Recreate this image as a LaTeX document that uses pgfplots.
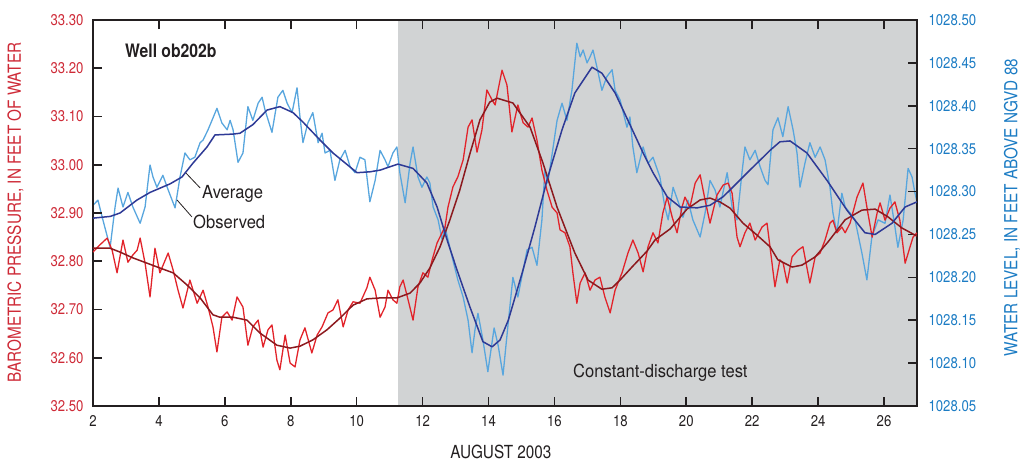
\documentclass[border=0pt]{standalone}
\usepackage{fontspec}
\setmainfont{TeX Gyre Heros}[FakeStretch=0.85]
\newfontfamily\annofont{TeX Gyre Heros}[FakeStretch=0.92]
\usepackage{pgfplots}
\pgfplotsset{compat=1.18}
\definecolor{obsred}{RGB}{226,35,42}
\definecolor{avgred}{RGB}{140,25,30}
\definecolor{obsblue}{RGB}{88,166,222}
\definecolor{avgblue}{RGB}{46,58,150}
\definecolor{shadegray}{RGB}{209,211,212}
\definecolor{labred}{RGB}{206,42,55}
\definecolor{labblue}{RGB}{28,124,196}
\definecolor{framecol}{RGB}{35,31,32}

\pgfplotstableread{
day water
2.00 1028.284
2.15 1028.290
2.30 1028.267
2.52 1028.235
2.67 1028.282
2.76 1028.304
2.91 1028.282
3.06 1028.299
3.21 1028.282
3.43 1028.263
3.58 1028.282
3.73 1028.331
3.82 1028.317
3.94 1028.305
4.12 1028.319
4.28 1028.302
4.49 1028.281
4.64 1028.317
4.79 1028.345
4.94 1028.337
5.09 1028.340
5.25 1028.357
5.34 1028.360
5.49 1028.372
5.61 1028.383
5.76 1028.397
5.91 1028.380
6.07 1028.372
6.16 1028.383
6.25 1028.372
6.40 1028.334
6.55 1028.345
6.70 1028.399
6.85 1028.383
7.01 1028.403
7.13 1028.410
7.22 1028.395
7.43 1028.369
7.61 1028.410
7.76 1028.418
7.89 1028.403
8.04 1028.392
8.19 1028.421
8.28 1028.387
8.37 1028.357
8.52 1028.380
8.67 1028.392
8.83 1028.357
8.95 1028.368
9.04 1028.345
9.19 1028.348
9.34 1028.313
9.49 1028.337
9.65 1028.348
9.80 1028.329
9.95 1028.322
10.10 1028.340
10.25 1028.337
10.40 1028.288
10.56 1028.313
10.71 1028.348
10.86 1028.337
10.95 1028.329
11.10 1028.345
11.22 1028.352
11.31 1028.322
11.47 1028.287
11.62 1028.333
11.71 1028.352
11.86 1028.317
11.98 1028.305
12.13 1028.317
12.22 1028.310
12.32 1028.282
12.47 1028.267
12.59 1028.244
12.68 1028.259
12.77 1028.244
12.92 1028.220
13.07 1028.197
13.23 1028.177
13.38 1028.150
13.50 1028.112
13.59 1028.139
13.68 1028.158
13.83 1028.127
13.98 1028.090
14.17 1028.141
14.29 1028.121
14.44 1028.086
14.59 1028.144
14.74 1028.200
14.89 1028.177
15.17 1028.232
15.32 1028.235
15.47 1028.214
15.62 1028.267
15.71 1028.325
15.80 1028.310
16.08 1028.383
16.23 1028.403
16.38 1028.383
16.53 1028.418
16.68 1028.473
16.78 1028.457
16.87 1028.465
16.99 1028.450
17.08 1028.457
17.17 1028.465
17.29 1028.445
17.44 1028.418
17.59 1028.434
17.75 1028.442
17.84 1028.418
17.99 1028.407
18.20 1028.375
18.29 1028.387
18.38 1028.352
18.50 1028.322
18.69 1028.352
18.84 1028.333
18.99 1028.340
19.20 1028.317
19.35 1028.282
19.45 1028.267
19.60 1028.305
19.81 1028.282
19.90 1028.270
20.05 1028.290
20.20 1028.267
20.42 1028.247
20.57 1028.275
20.72 1028.313
20.87 1028.302
21.02 1028.282
21.24 1028.322
21.39 1028.282
21.54 1028.267
21.69 1028.322
21.78 1028.352
21.93 1028.337
22.09 1028.348
22.24 1028.329
22.39 1028.313
22.48 1028.308
22.63 1028.372
22.78 1028.386
22.93 1028.364
23.09 1028.399
23.24 1028.372
23.36 1028.345
23.45 1028.305
23.60 1028.333
23.75 1028.357
23.91 1028.340
24.06 1028.352
24.21 1028.337
24.36 1028.305
24.45 1028.275
24.57 1028.252
24.72 1028.298
24.82 1028.282
24.97 1028.275
25.12 1028.267
25.33 1028.228
25.48 1028.197
25.63 1028.247
25.82 1028.267
26.03 1028.263
26.18 1028.296
26.33 1028.259
26.42 1028.235
26.58 1028.267
26.73 1028.327
26.85 1028.317
26.94 1028.298
27.00 1028.288
}\waterobs

\pgfplotstableread{
day water
2.00 1028.269
2.52 1028.271
2.82 1028.275
3.33 1028.290
3.73 1028.299
4.34 1028.309
4.70 1028.317
5.03 1028.333
5.46 1028.352
5.70 1028.366
6.25 1028.367
6.46 1028.368
6.85 1028.378
7.28 1028.395
7.67 1028.399
8.07 1028.392
8.37 1028.381
8.89 1028.360
9.28 1028.345
10.01 1028.322
10.40 1028.323
10.71 1028.325
11.25 1028.332
11.71 1028.327
12.13 1028.310
12.44 1028.282
12.74 1028.244
13.04 1028.209
13.44 1028.165
13.83 1028.125
14.11 1028.119
14.35 1028.127
14.60 1028.150
15.02 1028.205
15.41 1028.259
15.80 1028.317
16.23 1028.372
16.62 1028.415
17.14 1028.445
17.44 1028.438
17.84 1028.415
18.23 1028.383
18.69 1028.345
18.99 1028.322
19.42 1028.294
19.81 1028.282
20.33 1028.281
20.72 1028.284
21.12 1028.294
21.54 1028.310
21.93 1028.325
22.33 1028.340
22.54 1028.348
22.84 1028.358
23.15 1028.359
23.66 1028.345
24.27 1028.313
24.88 1028.278
25.42 1028.252
25.73 1028.250
26.24 1028.263
26.64 1028.282
27.00 1028.288
}\wateravg

\pgfplotstableread{
day baro
2.00 32.819
2.21 32.834
2.43 32.848
2.58 32.823
2.73 32.776
2.91 32.844
3.06 32.798
3.21 32.813
3.34 32.823
3.43 32.848
3.58 32.796
3.73 32.726
3.88 32.827
4.03 32.776
4.28 32.817
4.43 32.782
4.58 32.740
4.73 32.703
4.94 32.761
5.16 32.713
5.34 32.740
5.49 32.705
5.64 32.664
5.76 32.612
5.91 32.684
6.07 32.695
6.22 32.678
6.37 32.726
6.55 32.705
6.70 32.626
6.85 32.664
7.01 32.678
7.16 32.622
7.31 32.658
7.43 32.668
7.58 32.595
7.67 32.575
7.83 32.647
7.98 32.589
8.13 32.581
8.28 32.637
8.43 32.662
8.64 32.610
8.80 32.647
8.95 32.664
9.13 32.693
9.28 32.699
9.43 32.720
9.59 32.664
9.74 32.699
9.89 32.716
10.10 32.713
10.31 32.745
10.40 32.767
10.56 32.740
10.71 32.684
10.86 32.705
10.95 32.740
11.10 32.720
11.22 32.713
11.31 32.747
11.41 32.761
11.56 32.720
11.71 32.678
11.86 32.747
12.01 32.776
12.16 32.767
12.29 32.803
12.44 32.838
12.59 32.859
12.68 32.871
12.77 32.912
12.92 32.954
13.07 32.975
13.23 33.010
13.38 33.078
13.50 33.093
13.65 33.026
13.80 33.072
13.95 33.155
14.11 33.134
14.20 33.124
14.41 33.196
14.56 33.165
14.71 33.068
14.89 33.124
15.05 33.087
15.20 33.078
15.32 33.097
15.47 33.051
15.62 32.989
15.77 32.948
15.93 32.912
16.08 32.900
16.17 32.865
16.32 32.859
16.47 32.830
16.56 32.776
16.68 32.713
16.78 32.755
16.93 32.776
17.08 32.740
17.23 32.761
17.38 32.767
17.53 32.726
17.69 32.693
17.84 32.740
18.05 32.776
18.23 32.817
18.38 32.844
18.54 32.817
18.69 32.778
18.84 32.830
18.99 32.859
19.14 32.838
19.29 32.900
19.42 32.933
19.57 32.892
19.72 32.859
19.87 32.912
19.96 32.933
20.11 32.912
20.27 32.962
20.42 32.979
20.57 32.927
20.72 32.879
20.93 32.937
21.12 32.958
21.27 32.962
21.39 32.941
21.54 32.850
21.63 32.830
21.78 32.859
21.93 32.879
22.09 32.844
22.30 32.871
22.45 32.879
22.54 32.830
22.69 32.747
22.84 32.803
22.94 32.796
23.06 32.755
23.21 32.809
23.39 32.823
23.54 32.830
23.69 32.776
23.75 32.755
23.91 32.809
24.06 32.817
24.21 32.844
24.36 32.879
24.45 32.885
24.57 32.859
24.72 32.871
24.82 32.859
24.97 32.879
25.18 32.933
25.36 32.962
25.51 32.900
25.64 32.850
25.79 32.900
25.88 32.921
26.03 32.885
26.18 32.910
26.33 32.923
26.48 32.885
26.64 32.796
26.79 32.830
26.88 32.850
27.00 32.859
}\baroobs

\pgfplotstableread{
day baro
2.00 32.827
2.52 32.827
2.82 32.819
3.21 32.807
3.64 32.796
4.03 32.786
4.43 32.776
4.85 32.751
5.25 32.724
5.64 32.689
5.85 32.684
6.25 32.684
6.67 32.678
7.07 32.651
7.58 32.626
7.98 32.620
8.28 32.624
8.67 32.637
9.10 32.658
9.49 32.682
9.89 32.709
10.31 32.722
10.71 32.724
11.22 32.724
11.62 32.734
11.92 32.755
12.22 32.786
12.53 32.830
12.83 32.886
13.13 32.948
13.44 33.024
13.74 33.093
14.04 33.130
14.26 33.138
14.74 33.128
15.26 33.078
15.65 33.004
16.08 32.912
16.38 32.859
16.62 32.817
17.02 32.761
17.44 32.742
17.75 32.745
17.99 32.761
18.38 32.790
18.81 32.821
19.05 32.844
19.51 32.867
20.02 32.908
20.42 32.927
20.72 32.931
21.02 32.923
21.33 32.910
21.72 32.879
22.15 32.854
22.54 32.830
22.78 32.803
23.21 32.788
23.51 32.792
23.91 32.809
24.30 32.840
24.82 32.886
25.33 32.906
25.73 32.908
26.12 32.892
26.54 32.869
27.00 32.852
}\baroavg

\begin{document}
\begin{tikzpicture}
\useasboundingbox (-93pt,-58pt) rectangle (928pt,406pt);
% water-level axis: shading, frame, x ticks, right ticks, blue observed
\begin{axis}[scale only axis, width=824pt, height=386pt,
  at={(0pt,0pt)}, anchor=south west,
  xmin=2, xmax=27, ymin=1028.05, ymax=1028.50,
  axis on top,
  tick align=inside, major tick length=9pt,
  every tick/.append style={draw=framecol, line width=1.4pt},
  axis line style={draw=framecol, line width=1.5pt},
  xtick={2,4,6,8,10,12,14,16,18,20,22,24,26},
  xticklabels={2,4,6,8,10,12,14,16,18,20,22,24,26},
  xtick pos=both,
  xticklabel style={text=framecol, yshift=-6pt, font=\fontsize{15.5}{15.5}\selectfont},
  ytick={1028.05,1028.10,1028.15,1028.20,1028.25,1028.30,1028.35,1028.40,1028.45,1028.50},
  yticklabels={1028.05,1028.10,1028.15,1028.20,1028.25,1028.30,1028.35,1028.40,1028.45,1028.50},
  ytick pos=right,
  yticklabel style={text=labblue, xshift=8pt, font=\fontsize{15.5}{15.5}\selectfont},
  xlabel={AUGUST 2003},
  xlabel style={at={(axis description cs:0.495,-0.137)}, anchor=base, text=framecol, font=\fontsize{18}{18}\selectfont},
  ylabel={WATER LEVEL, IN FEET ABOVE NGVD 88},
  ylabel style={at={(axis description cs:1.1153,0.514)}, anchor=center, rotate=0, text=labblue, font=\fontsize{18}{18}\selectfont},
]
\addplot[fill=shadegray, draw=none] coordinates {(11.25,1028.0) (11.25,1028.6) (27.5,1028.6) (27.5,1028.0)} -- cycle;
\addplot[obsblue, line width=1.3pt, line join=round] table[x=day, y=water] {\waterobs};
\pgfplotsinvokeforeach{1028.10,1028.15,1028.20,1028.25,1028.30,1028.35,1028.40,1028.45}{
  \addplot[framecol, line width=1.6pt, forget plot] coordinates {(26.73,#1) (27,#1)};
}
\pgfplotsinvokeforeach{4,6,8,10,12,14,16,18,20,22,24,26}{
  \addplot[framecol, line width=1.6pt, forget plot] coordinates {(#1,1028.05) (#1,1028.0605)};
  \addplot[framecol, line width=1.6pt, forget plot] coordinates {(#1,1028.4895) (#1,1028.50)};
}
\end{axis}
% barometric axis: red curves, left ticks
\begin{axis}[scale only axis, width=824pt, height=386pt,
  at={(0pt,0pt)}, anchor=south west,
  xmin=2, xmax=27, ymin=32.5, ymax=33.3,
  tick align=inside, major tick length=9pt,
  every tick/.append style={draw=framecol, line width=1.4pt},
  axis line style={draw=framecol, line width=1.5pt},
  xtick=\empty,
  ytick={32.5,32.6,32.7,32.8,32.9,33.0,33.1,33.2,33.3},
  yticklabels={32.50,32.60,32.70,32.80,32.90,33.00,33.10,33.20,33.30},
  ytick pos=left,
  yticklabel style={text=labred, xshift=-6pt, font=\fontsize{15.5}{15.5}\selectfont},
  ylabel={BAROMETRIC PRESSURE, IN FEET OF WATER},
  ylabel style={at={(axis description cs:-0.094,0.501)}, anchor=center, text=labred, font=\fontsize{18}{18}\selectfont},
]
\addplot[obsred, line width=1.3pt, line join=round] table[x=day, y=baro] {\baroobs};
\addplot[avgred, line width=1.5pt, line join=round] table[x=day, y=baro] {\baroavg};
\pgfplotsinvokeforeach{32.6,32.7,32.8,32.9,33.0,33.1,33.2}{
  \addplot[framecol, line width=1.6pt, forget plot] coordinates {(2,#1) (2.27,#1)};
}
\node[anchor=base west, inner sep=0pt, text=framecol, font=\bfseries\fontsize{18.5}{18.5}\selectfont] at (axis cs:2.971,33.223) {Well ob202b};
\node[anchor=base west, inner sep=0pt, text=framecol, font=\annofont\fontsize{18}{18}\selectfont] at (axis cs:5.307,32.931) {Average};
\node[anchor=base west, inner sep=0pt, text=framecol, font=\annofont\fontsize{18}{18}\selectfont] at (axis cs:5.034,32.867) {Observed};
\node[anchor=base west, inner sep=0pt, text=framecol, font=\annofont\fontsize{18}{18}\selectfont] at (axis cs:16.563,32.560) {Constant-discharge test};
\draw[framecol, line width=0.8pt] (axis cs:4.79,32.985) -- (axis cs:5.25,32.952);
\draw[framecol, line width=0.8pt] (axis cs:4.55,32.927) -- (axis cs:5.00,32.892);
\end{axis}
% blue average on top
\begin{axis}[scale only axis, width=824pt, height=386pt,
  at={(0pt,0pt)}, anchor=south west,
  xmin=2, xmax=27, ymin=1028.05, ymax=1028.50, hide axis]
\addplot[avgblue, line width=1.5pt, line join=round] table[x=day, y=water] {\wateravg};
\end{axis}
\end{tikzpicture}
\end{document}
